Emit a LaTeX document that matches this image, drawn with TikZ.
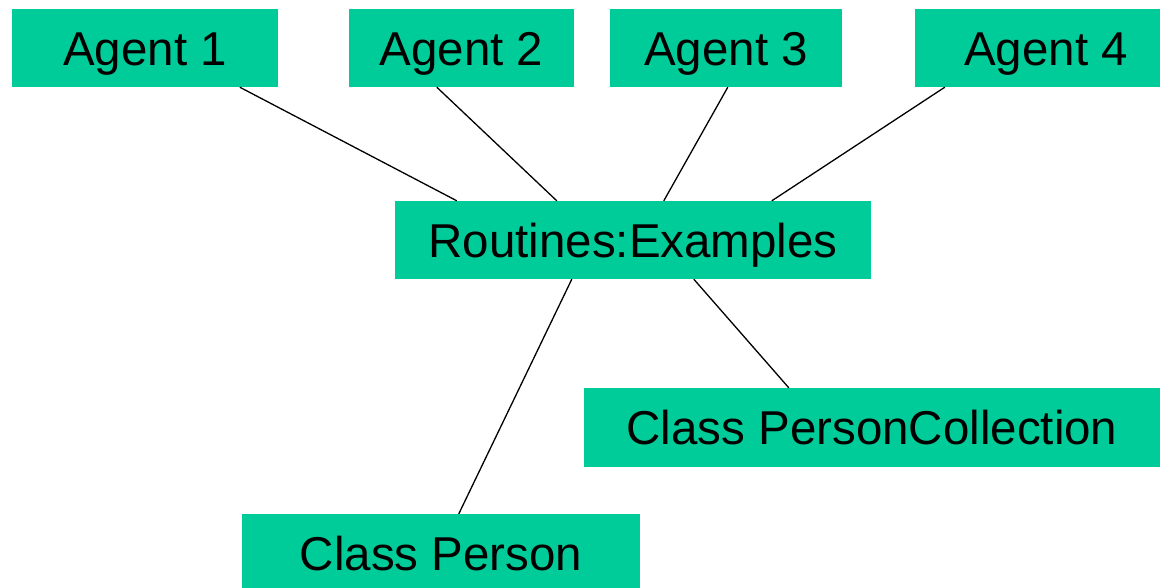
\documentclass[tikz,border=0pt]{standalone}
\usepackage{fontspec}
\setmainfont{Liberation Sans}
\usetikzlibrary{calc}
\definecolor{boxgreen}{RGB}{0,204,153}
\tikzset{
  gbox/.style={fill=boxgreen, draw=none, inner sep=0pt, anchor=center,
    minimum height=78pt, text height=34pt, text depth=0pt,
    font=\fontsize{47.5pt}{50pt}\selectfont},
  link/.style={draw=black, line width=1.3pt}
}
\begin{document}
\begin{tikzpicture}[x=1pt,y=-1pt]
\useasboundingbox[fill=white] (0,0) rectangle (1160,587);
\node[gbox, minimum width=266pt] (a1) at (145,48) {Agent 1};
\node[gbox, minimum width=225pt] (a2) at (461.5,48) {Agent 2};
\node[gbox, minimum width=232pt] (a3) at (726,48) {Agent 3};
\node[gbox, minimum width=262pt] (a4) at (1046,48) {Agent 4};
\node[gbox, minimum width=476pt] (r) at (633,240) {Routines:Examples};
\node[gbox, minimum width=576pt, minimum height=79pt] (pc) at (872,427.5) {Class PersonCollection};
\node[gbox, minimum width=398pt, minimum height=79pt] (cp) at (441,553.5) {Class Person};
\draw[link] ($(a1.south west)+(228,0)$) -- ($(r.north west)+(62,0)$);
\draw[link] ($(a2.south west)+(88,0)$) -- ($(r.north west)+(162,0)$);
\draw[link] ($(a3.south west)+(118,0)$) -- ($(r.north west)+(269,0)$);
\draw[link] ($(a4.south west)+(30,0)$) -- ($(r.north west)+(377,0)$);
\draw[link] ($(r.south west)+(177,0)$) -- ($(cp.north west)+(217,0)$);
\draw[link] ($(r.south west)+(299,0)$) -- ($(pc.north west)+(205,0)$);
\end{tikzpicture}
\end{document}
